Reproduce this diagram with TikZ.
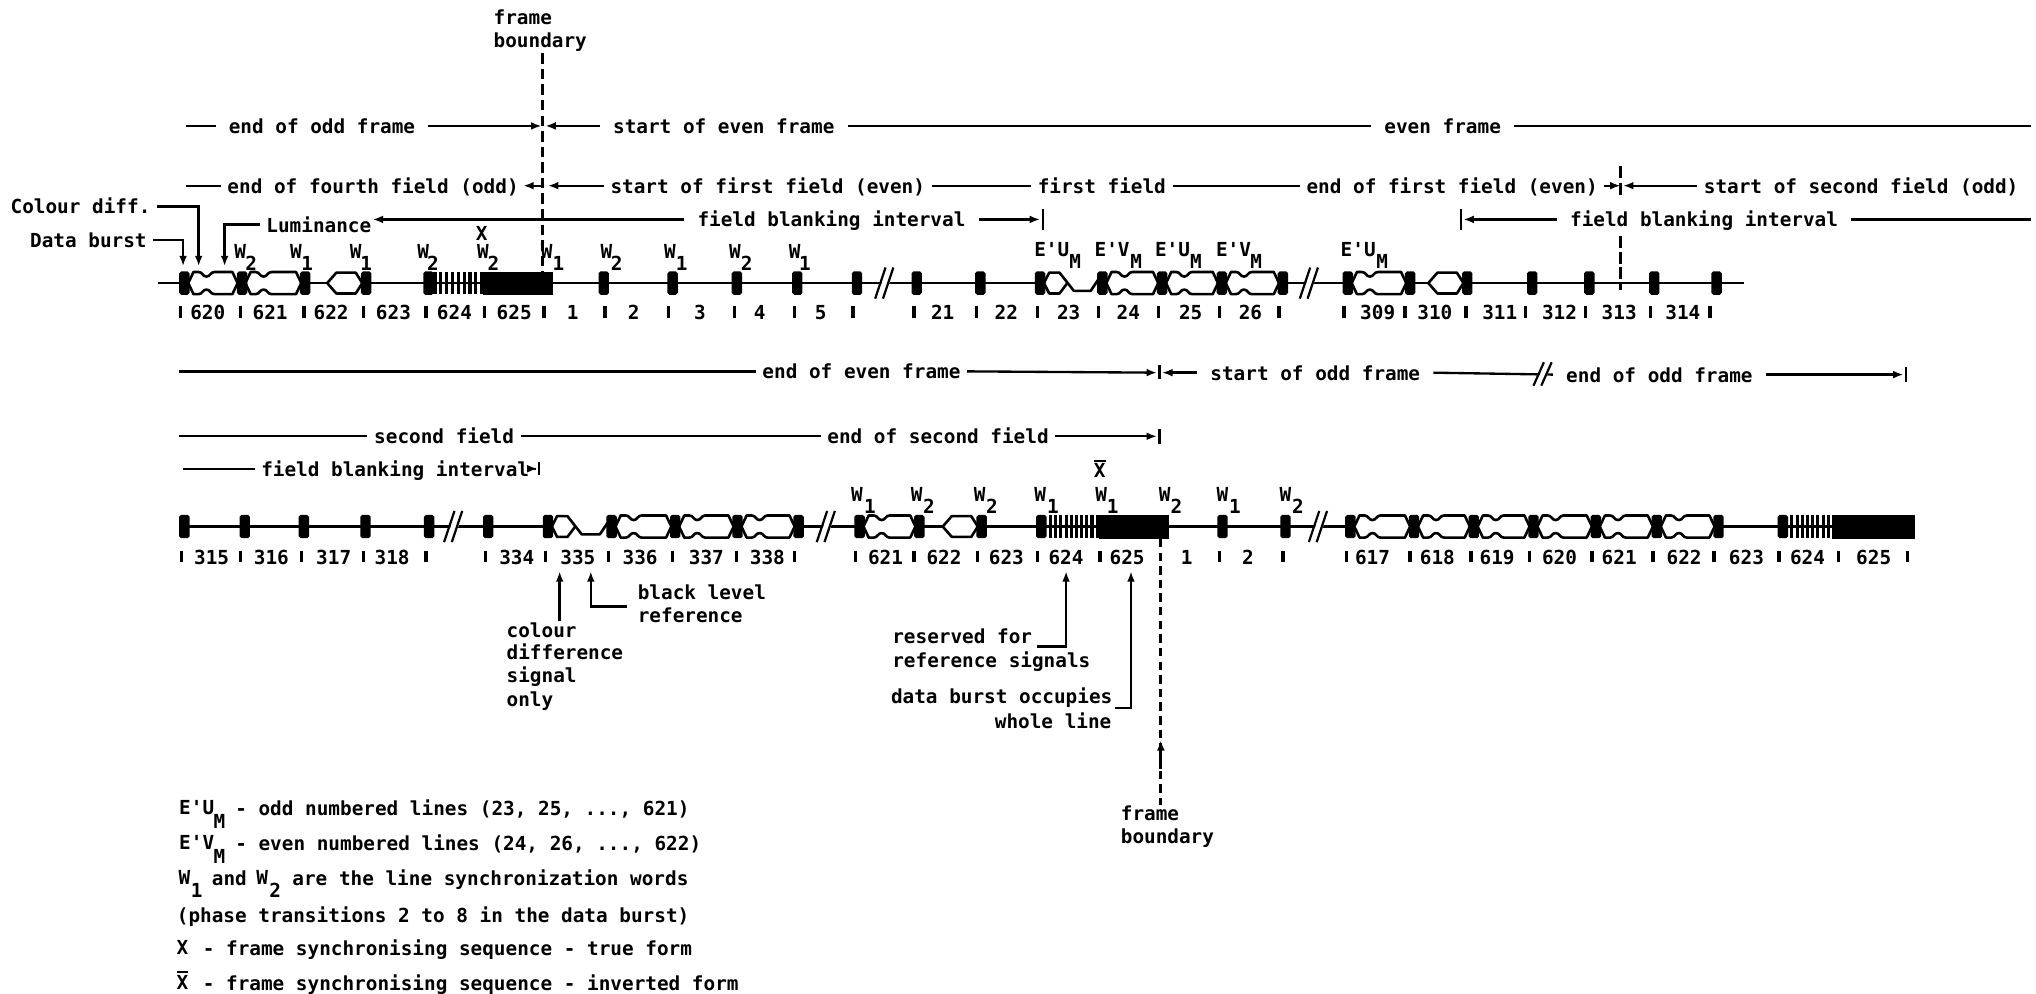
\documentclass[tikz,border=0pt]{standalone}
\usepackage{fontspec}
\setmonofont{DejaVu Sans Mono}
\usetikzlibrary{arrows.meta}
\newcommand\Xbar{X\llap{\rule[12.5pt]{9pt}{1.4pt}}}
\newcommand\Blk[2]{\fill[rounded corners=1.5pt] ({#1-4},{#2-9}) rectangle ({#1+4},{#2+9});}
\newcommand\Full[3]{\draw[wave,fill=white] ({#1+3},#3) -- ({#1+7},{#3-8.5}) -- ({#1+11},{#3-8.5})
 .. controls ({#1+14},{#3-8.5}) and ({#1+14},{#3-5}) .. ({#1+17},{#3-5})
 .. controls ({#1+20},{#3-5}) and ({#1+20},{#3-8.5}) .. ({#1+23},{#3-8.5})
 -- ({#2-7},{#3-8.5}) -- ({#2-3},#3) -- ({#2-7},{#3+8.5}) -- ({#1+23},{#3+8.5})
 .. controls ({#1+20},{#3+8.5}) and ({#1+20},{#3+5}) .. ({#1+17},{#3+5})
 .. controls ({#1+14},{#3+5}) and ({#1+14},{#3+8.5}) .. ({#1+11},{#3+8.5})
 -- ({#1+7},{#3+8.5}) -- cycle;}
\newcommand\Lum[2]{\draw[wave,fill=white] ({#1-30},#2) -- ({#1-23},{#2-8}) -- ({#1-8},{#2-8}) -- ({#1-3},#2) -- ({#1-8},{#2+8}) -- ({#1-23},{#2+8}) -- cycle;}
\newcommand\Chroma[3]{\fill[white] ({#1+3},{#3-2}) rectangle ({#2-3},{#3+2});
 \draw[wave] ({#1+3},#3) -- ({#1+7},{#3-8}) -- ({#1+15},{#3-8}) -- ({#1+26},{#3+6}) -- ({#2-9},{#3+6}) -- ({#2-3},{#3-3});
 \draw[wave] ({#1+3},#3) -- ({#1+7},{#3+8}) -- ({#1+15},{#3+8}) -- ({#1+21},#3);}
\newcommand\Brk[3]{\fill[white] ({#1-5},{#2+#3}) -- ({#1+1},{#2+#3}) -- ({#1+9},{#2-#3}) -- ({#1+3},{#2-#3}) -- cycle;
 \draw[line width=1.7pt] ({#1-6},{#2+#3}) -- ({#1+2},{#2-#3}); \draw[line width=1.7pt] ({#1},{#2+#3}) -- ({#1+8},{#2-#3});}
\tikzset{
 every node/.style={font=\ttfamily\bfseries\fontsize{14.9}{15}\selectfont,inner sep=0pt},
 lab/.style={anchor=west,inner xsep=5pt,inner ysep=0pt,text height=11.5pt,text depth=0pt,xshift=-5pt},
 labw/.style={anchor=west,inner xsep=10pt,inner ysep=0pt,text height=11.5pt,text depth=0pt,xshift=-10pt},
 gl/.style={anchor=center,text height=10pt,text depth=0pt},
 tl/.style={line width=1.8pt},
 tip/.style={-{Latex[length=8pt,width=6pt]}},
 wave/.style={line width=2pt,line join=round},
 bound/.style={line width=2.5pt,dash pattern=on 8pt off 4pt},
 tick/.style={line width=2.6pt},
}
\begin{document}
\begin{tikzpicture}[x=1pt,y=-1pt]
\useasboundingbox (0,0) rectangle (1568,765.5);
% ---- frame boundary top
\node[lab] (fb1) at (380,13) {frame};
\node[lab] (fb2) at (380,31) {boundary};
\coordinate (fbt) at (418,41); \coordinate (fbb) at (418,210);
\draw[bound] (fbt) -- (fbb);
% ---- row y=97
\coordinate (a0) at (143,97); \node[labw] (a1) at (176,97) {end of odd frame};
\coordinate (a2) at (417,97); \coordinate (a2b) at (420,97);
\node[labw] (a3) at (472,97) {start of even frame};
\node[labw] (a4) at (1066,97) {even frame}; \coordinate (a5) at (1564,97);
\draw[tl] (a0) -- (a1.west); \draw[tl,tip] (a1.east) -- (a2);
\draw[tl,tip] (a3.west) -- (a2b); \draw[tl] (a3.east) -- (a4.west); \draw[tl] (a4.east) -- (a5);
% ---- row y=143
\coordinate (b0) at (143,143); \node[lab] (b1) at (175,143) {end of fourth field (odd)};
\coordinate (b2) at (403,143); \coordinate (b2a) at (419,143); \coordinate (b2b) at (422,143);
\node[lab] (b3) at (470,143) {start of first field (even)};
\node[lab] (b4) at (799,143) {first field};
\node[lab] (b5) at (1006,143) {end of first field (even)};
\coordinate (b6) at (1248,143); \coordinate (b6b) at (1250,143);
\node[lab] (b7) at (1312,143) {start of second field (odd)};
\draw[tl] (b0) -- (b1.west); \draw[tl,tip] (b2a) -- (b2);
\draw[tl,tip] (b3.west) -- (b2b); \draw[tl] (b3.east) -- (b4.west); \draw[tl] (b4.east) -- (b5.west);
\draw[tl,tip] (b5.east) -- (b6); \draw[tl,tip] (b7.west) -- (b6b);
\coordinate (v1) at (1248,128); \coordinate (v2) at (1248,153); \coordinate (v3) at (1248,182); \coordinate (v4) at (1248,223);
\draw[tl,dash pattern=on 9pt off 4pt] (v1) -- (v2);
\draw[tl,dash pattern=on 9pt off 3pt] (v3) -- (v4);
% ---- field blanking row 1
\node[lab] (lu) at (205,173) {Luminance};
\coordinate (c1) at (287,169); \coordinate (c1a) at (418,169);
\node[labw] (c2) at (537,169) {field blanking interval};
\coordinate (c3) at (801,169); \coordinate (c3a) at (803,161); \coordinate (c3b) at (803,177);
\draw[tl,tip] (c2.west) -- (c1); \draw[tl,tip] (c2.east) -- (c3); \draw[tl] (c3a) -- (c3b);
\coordinate (d0a) at (1125,161); \coordinate (d0b) at (1125,177); \coordinate (d0) at (1127,169);
\node[labw] (d1) at (1209,169) {field blanking interval}; \coordinate (d2) at (1564,169);
\draw[tl] (d0a) -- (d0b); \draw[tl,tip] (d1.west) -- (d0); \draw[tl] (d1.east) -- (d2);
% ---- side labels
\node[lab] (cd) at (8,159) {Colour diff.};
\node[lab] (db) at (23,185) {Data burst};
\coordinate (cdt) at (153,205); \coordinate (dbt) at (141,205); \coordinate (lut) at (173,205);
\draw[tl,tip] (cd.east) -| (cdt);
\draw[tl,tip] (db.east) -| (dbt);
\draw[tl,tip] (lu.west) -| (lut);
% ---- waveform row 1
\coordinate (r1a) at (122,218); \coordinate (r1b) at (1343,218);
\draw[line width=2pt] (r1a) -- (r1b);
\Full{142}{186}{218} \Full{186}{235}{218} \Lum{282}{218}
\Chroma{801}{849}{218} \Full{849}{895}{218} \Full{895}{941}{218} \Full{941}{988}{218} \Full{1038}{1086}{218} \Lum{1130}{218}
\foreach \c in {142,186.5,235,282,330,465,518,567.5,614,660,706,755,801,849,895,941,988,1038,1086,1130,1180,1224,1274,1322}{\Blk{\c}{218}}
\foreach \c in {335,339.5,...,371}{\draw[line width=2.4pt] (\c,209.5) -- (\c,226.5);}
\fill (372,209.5) rectangle (426,227);
\Brk{680}{218}{12} \Brk{1007}{218}{12}
% ---- row-1 labels
\foreach \x/\s [count=\i] in {185/2,228/1,274/1,326/2,372/2,421/1,467/2,516/1,566/2,612/1}{\node[gl] (wa\i) at (\x,194) {W};}
\foreach \x/\s [count=\i] in {193.5/2,236.5/1,282/1,333.5/2,380/2,430/1,475/2,525/1,575/2,620/1}{\node[gl] (sa\i) at (\x,203) {\s};}
\node[gl] (xa) at (371,180) {X};
\foreach \x/\t [count=\i] in {810/E'U,856.5/E'V,903/E'U,950/E'V,1046/E'U}{\node[gl] (ea\i) at (\x,192.5) {\t};}
\foreach \x [count=\i] in {828,875,921,967.5,1064.5}{\node[gl] (ma\i) at (\x,201.5) {M};}
\foreach \x/\t [count=\i] in {160/620,208/621,255/622,303/623,350/624,396/625,441/1,488/2,539/3,585/4,632/5,726/21,775/22,823/23,869/24,917/25,963/26,1061/309,1105/310,1155/311,1201/312,1247/313,1296/314}{\node[gl] (na\i) at (\x,241) {\t};}
\foreach \x in {139,185,234,280,328,373,419,466,515,565.5,612,657,704,752,799,846,892,939,985,1035,1082,1129,1175,1221,1271,1317}{\draw[tick] (\x,236) -- (\x,245);}
% ---- row y=286.5
\coordinate (e0) at (138,286); \node[lab] (e1) at (587,286) {end of even frame};
\coordinate (e2) at (891,287); \coordinate (e2t) at (893,281); \coordinate (e2b) at (893,292); \coordinate (e2c) at (895,287);
\node[labw] (e3) at (932,287) {start of odd frame};
\node[labw] (e4) at (1206,288.5) {end of odd frame};
\coordinate (e5) at (1466,288.5); \coordinate (e5t) at (1468,283); \coordinate (e5b) at (1468,294);
\draw[tl] (e0) -- (e1.west); \draw[tl,tip] (e1.east) -- (e2); \draw[tl] (e2t) -- (e2b);
\draw[tl,tip] (e3.west) -- (e2c); \draw[tl] (e3.east) -- (e4.west);
\draw[tl,tip] (e4.east) -- (e5); \draw[tl] (e5t) -- (e5b);
\Brk{1187}{288}{9}
% ---- row y=336
\coordinate (f0) at (138,336); \node[lab] (f1) at (288,336) {second field};
\node[lab] (f2) at (637,336) {end of second field};
\coordinate (f3) at (891,336); \coordinate (f3t) at (893,330); \coordinate (f3b) at (893,342);
\draw[tl] (f0) -- (f1.west); \draw[tl] (f1.east) -- (f2.west); \draw[tl,tip] (f2.east) -- (f3); \draw[tl] (f3t) -- (f3b);
% ---- row y=361
\coordinate (g0) at (141,361); \node[lab] (g1) at (201,361) {field blanking interval};
\coordinate (g2) at (414,361); \coordinate (g2t) at (415,356); \coordinate (g2b) at (415,366);
\draw[tl] (g0) -- (g1.west); \draw[tl,tip] (g1.east) -- (g2); \draw[tl] (g2t) -- (g2b);
% ---- waveform row 2
\coordinate (r2a) at (138,405.5); \coordinate (r2b) at (1470,405.5);
\draw[line width=2pt] (r2a) -- (r2b);
\Chroma{422}{471}{405.5} \Full{471}{520}{405.5} \Full{520}{568}{405.5} \Full{568}{615}{405.5}
\Full{662}{708}{405.5} \Lum{756}{405.5}
\Full{1040}{1089}{405.5} \Full{1089}{1135}{405.5} \Full{1135}{1181}{405.5} \Full{1181}{1229}{405.5} \Full{1229}{1276}{405.5} \Full{1276}{1323.5}{405.5}
\foreach \c in {142,188.5,234,281.5,330.5,376,422,471,520,568,615,662,708,756,802,941.5,990,1040,1089,1135,1181,1229,1276,1323.5,1373}{\Blk{\c}{405.5}}
\foreach \c in {809,813,...,845}{\draw[line width=2.4pt] (\c,396.5) -- (\c,414.5);}
\fill (846,396.5) rectangle (900,415);
\foreach \c in {1380,1384,...,1410}{\draw[line width=2.4pt] (\c,396.5) -- (\c,414.5);}
\fill (1411,396.5) rectangle (1475,415);
\Brk{348}{405.5}{12} \Brk{635}{405.5}{12} \Brk{1014}{405.5}{12}
% ---- row-2 labels
\foreach \x [count=\i] in {660,706,754.5,801,848,897,941.5,990}{\node[gl] (wb\i) at (\x,381) {W};}
\foreach \x/\s [count=\i] in {670/1,715.5/2,764/2,811/1,857/1,906/2,951/1,999.5/2}{\node[gl] (sb\i) at (\x,390.5) {\s};}
\node[gl] (xb) at (847,363) {\Xbar};
\foreach \x/\t [count=\i] in {163/315,209/316,257/317,302/318,398/334,445/335,493/336,544/337,591/338,682/621,727/622,775/623,821/624,868/625,914/1,961/2,1057/617,1107/618,1153/619,1201/620,1247/621,1297/622,1345/623,1392/624,1443/625}{\node[gl] (nb\i) at (\x,429.5) {\t};}
\foreach \x in {140,185,232,280,328,374,420,468.5,518,567,612,659,704,753,799,847,939,988,1037,1086,1133,1178,1226,1273,1320,1370,1416,1469}{\draw[tick] (\x,424) -- (\x,433);}
% ---- lower frame boundary
\coordinate (fct) at (894,415); \coordinate (fcb) at (894,620);
\draw[bound,dash pattern=on 6.5pt off 4pt] (fct) -- (fcb);
\coordinate (fa1) at (894,592); \coordinate (fa2) at (894,570);
\draw[line width=2.5pt,tip] (fa1) -- (fa2);
\node[lab] (fb3) at (863,626) {frame};
\node[lab] (fb4) at (863,644) {boundary};
% ---- annotations
\node[lab] (cs1) at (390,485) {colour};
\node[lab] (cs2) at (390,502) {difference};
\node[lab] (cs3) at (390,520) {signal};
\node[lab] (cs4) at (390,538) {only};
\coordinate (ca0) at (431,478); \coordinate (ca1) at (431,440);
\draw[tl,tip] (ca0) -- (ca1);
\node[lab] (bl1) at (491,456) {black level};
\node[lab] (bl2) at (491,474) {reference};
\coordinate (bl0) at (483,467); \coordinate (bl3) at (455,440);
\draw[tl,tip] (bl0) -| (bl3);
\node[lab] (rs1) at (687,490) {reserved for};
\node[lab] (rs2) at (687,508) {reference signals};
\coordinate (rs0) at (799,498); \coordinate (rs3) at (821,440);
\draw[tl,tip] (rs0) -| (rs3);
\node[lab] (dw1) at (686,536) {data burst occupies};
\node[lab] (dw2) at (766,555) {whole line};
\coordinate (dw0) at (859,545); \coordinate (dw3) at (871,440);
\draw[tl,tip] (dw0) -| (dw3);
% ---- legend
\node[gl] (l1a) at (151.5,622) {E'U}; \node[gl] (l1m) at (169,633) {M};
\node[lab] (l1) at (181,622) {- odd numbered lines (23, 25, ..., 621)};
\node[gl] (l2a) at (151.5,649) {E'V}; \node[gl] (l2m) at (169,660) {M};
\node[lab] (l2) at (181,649) {- even numbered lines (24, 26, ..., 622)};
\node[gl] (l3a) at (142,676) {W}; \node[gl] (l3s) at (151.5,686) {1};
\node[lab] (l3b) at (163,676) {and};
\node[gl] (l3c) at (202,676) {W}; \node[gl] (l3t) at (212,686) {2};
\node[lab] (l3) at (225,676) {are the line synchronization words};
\node[lab] (l4) at (136,705) {(phase transitions 2 to 8 in the data burst)};
\node[gl] (l5a) at (140.5,730) {X};
\node[lab] (l5) at (156,730) {- frame synchronising sequence - true form};
\node[gl] (l6a) at (140.5,757) {\Xbar};
\node[lab] (l6) at (156,757) {- frame synchronising sequence - inverted form};
\end{tikzpicture}
\end{document}
